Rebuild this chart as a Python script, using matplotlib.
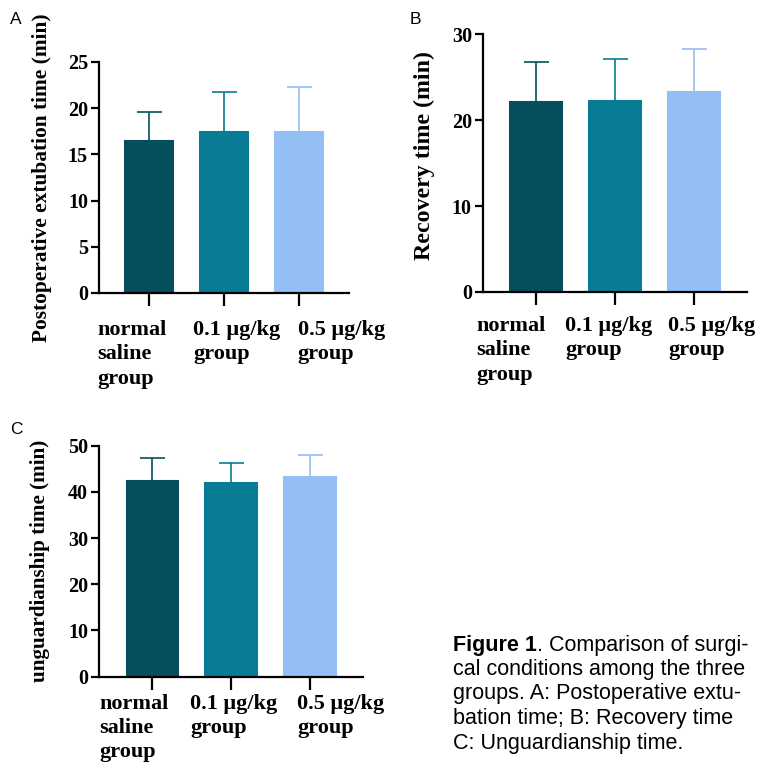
import matplotlib
matplotlib.use("Agg")
import matplotlib.pyplot as plt
from matplotlib.transforms import offset_copy

# Group names and measured times (mean, SD)
groups = ["normal\nsaline\ngroup", "0.1 μg/kg\ngroup", "0.5 μg/kg\ngroup"]
colors = ["#044e5e", "#087c94", "#93bff5"]

extubation_mean = [16.4, 17.4, 17.4]
extubation_sd = [3.15, 4.3, 4.9]

recovery_mean = [22.05, 22.25, 23.2]
recovery_sd = [4.75, 4.8, 5.1]

unguard_mean = [42.4, 42.0, 43.2]
unguard_sd = [5.0, 4.25, 4.8]

serif = "Liberation Serif"
sans = "Liberation Sans"

fig = plt.figure(figsize=(7.57, 7.68), dpi=100)


def bar_panel(rect, means, sds, ylim, yticks, ylabel, ylab_size, ylab_xy, label_dx, label_dy):
    ax = fig.add_axes(rect)
    x = list(range(len(means)))
    ax.bar(x, means, width=0.65, color=colors, edgecolor=colors, linewidth=1.5, zorder=2)
    for i in x:
        ax.errorbar(i, means[i], yerr=[[0], [sds[i]]], fmt="none", ecolor=colors[i],
                    elinewidth=1.2, capsize=9, capthick=1.2, zorder=1)
    ax.set_xlim(-0.67, 2.67)
    ax.set_ylim(*ylim)
    ax.set_yticks(yticks)
    ax.set_xticks(x)
    ax.set_xticklabels([])
    for s in ["top", "right"]:
        ax.spines[s].set_visible(False)
    for s in ["left", "bottom"]:
        ax.spines[s].set_linewidth(1.6)
    ax.tick_params(axis="y", length=6, width=1.6, pad=2, labelsize=14.5)
    ax.tick_params(axis="x", length=9, width=1.6)
    for t in ax.get_yticklabels():
        t.set_fontfamily(serif)
        t.set_fontweight("bold")
    ax.set_ylabel(ylabel, fontfamily=serif, fontweight="bold", fontsize=ylab_size)
    ax.yaxis.set_label_coords(*ylab_xy)
    # category names, left aligned under each tick
    for i, name in enumerate(groups):
        tr = offset_copy(ax.transData, fig=fig, x=label_dx[i], y=label_dy, units="dots")
        ax.text(i, ylim[0], name, transform=tr, ha="left", va="top",
                fontfamily=serif, fontweight="bold", fontsize=16, linespacing=1.29)
    return ax


axA = bar_panel([0.1308, 0.6185, 0.3302, 0.3008], extubation_mean, extubation_sd,
                (0, 25), [0, 5, 10, 15, 20, 25], "Postoperative extubation time (min)",
                15.4, (-0.188, 0.5), [-52, -31, -1], -27)
axB = bar_panel([0.638, 0.6198, 0.3488, 0.3359], recovery_mean, recovery_sd,
                (0, 30), [0, 10, 20, 30], "Recovery time (min)",
                17.2, (-0.182, 0.527), [-60, -50, -26], -24)
axC = bar_panel([0.1312, 0.1189, 0.348, 0.3008], unguard_mean, unguard_sd,
                (0, 50), [0, 10, 20, 30, 40, 50], "unguardianship time (min)",
                15.2, (-0.187, 0.5), [-53, -41, -13], -17)

# panel letters
fig.text(10 / 757, 1 - 19 / 768, "A", fontfamily=sans, fontsize=12.5, va="center")
fig.text(410 / 757, 1 - 19 / 768, "B", fontfamily=sans, fontsize=12.5, va="center")
fig.text(10 / 757, 1 - 430 / 768, "C", fontfamily=sans, fontsize=12.5, va="center")

# caption
cap_x = 453 / 757
cap_lines = [
    "cal conditions among the three",
    "groups. A: Postoperative extu-",
    "bation time; B: Recovery time",
    "C: Unguardianship time.",
]
fsz = 15.5
t = fig.text(cap_x, 1 - 645 / 768, "Figure 1", fontfamily=sans, fontweight="bold",
             fontsize=fsz, va="center")
fig.canvas.draw()
bb = t.get_window_extent()
fig.text(bb.x1 / fig.bbox.width, 1 - 645 / 768, ". Comparison of surgi-",
         fontfamily=sans, fontsize=fsz, va="center")
for k, line in enumerate(cap_lines):
    fig.text(cap_x, 1 - (645 + 24.5 * (k + 1)) / 768, line, fontfamily=sans,
             fontsize=fsz, va="center")

fig.savefig("out.png", dpi=100, facecolor="white")
